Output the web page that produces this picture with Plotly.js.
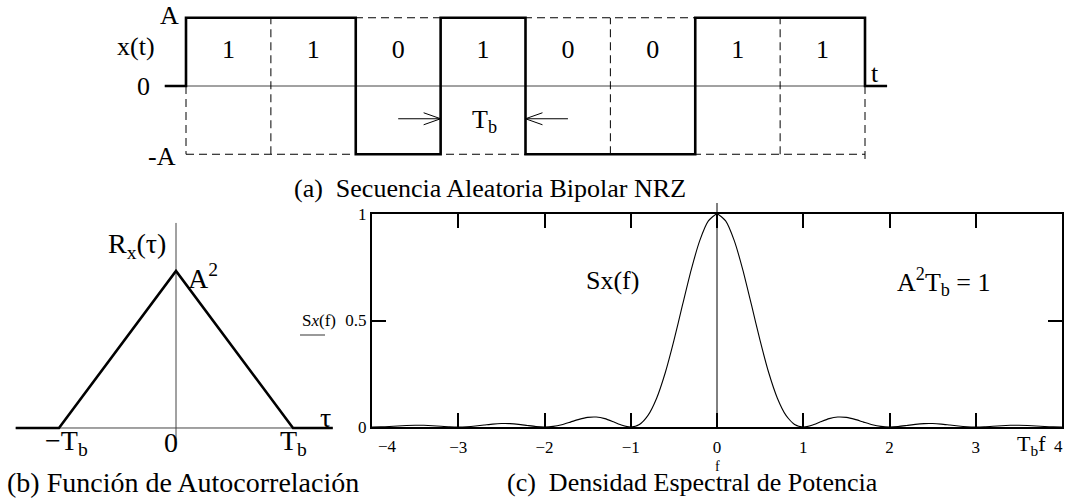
<!DOCTYPE html>
<html>
<head>
<meta charset="utf-8">
<script src="https://cdn.plot.ly/plotly-3.0.1.min.js"></script>
<style>html,body{margin:0;padding:0;background:#fff;}#chart{width:1065px;height:498px;}</style>
</head>
<body>
<div id="chart"></div>
<script>
// ---------- data ----------
const bits = [1, 1, 0, 1, 0, 0, 1, 1];
const bitLabels = ['1', '1', '0', '1', '0', '0', '1', '1'];
const levelLabels = ['A', '0', '-A'];

const tauValues = [-1.37, -1, 0, 1, 1.34];
const rValues = [0, 0, 1, 0, 0];

const fValues = [-4.0, -3.9, -3.8, -3.7, -3.6, -3.5, -3.4, -3.3, -3.2, -3.1,
  -3.0, -2.9, -2.8, -2.7, -2.6, -2.5, -2.4, -2.3, -2.2, -2.1,
  -2.0, -1.9, -1.8, -1.7, -1.6, -1.5, -1.4, -1.3, -1.2, -1.1,
  -1.0, -0.9, -0.8, -0.7, -0.6, -0.5, -0.4, -0.3, -0.2, -0.1,
  0.0, 0.1, 0.2, 0.3, 0.4, 0.5, 0.6, 0.7, 0.8, 0.9,
  1.0, 1.1, 1.2, 1.3, 1.4, 1.5, 1.6, 1.7, 1.8, 1.9,
  2.0, 2.1, 2.2, 2.3, 2.4, 2.5, 2.6, 2.7, 2.8, 2.9,
  3.0, 3.1, 3.2, 3.3, 3.4, 3.5, 3.6, 3.7, 3.8, 3.9, 4.0];
const sValues = [0.0, 0.0006, 0.0024, 0.0048, 0.0071, 0.0083, 0.0079, 0.0061, 0.0034, 0.0010,
  0.0, 0.0012, 0.0045, 0.0091, 0.0136, 0.0162, 0.0159, 0.0125, 0.0072, 0.0022,
  0.0, 0.0027, 0.0108, 0.0230, 0.0358, 0.0450, 0.0468, 0.0392, 0.0243, 0.0080,
  0.0, 0.0119, 0.0547, 0.1353, 0.2546, 0.4053, 0.5728, 0.7368, 0.8751, 0.9675,
  1.0, 0.9675, 0.8751, 0.7368, 0.5728, 0.4053, 0.2546, 0.1353, 0.0547, 0.0119,
  0.0, 0.0080, 0.0243, 0.0392, 0.0468, 0.0450, 0.0358, 0.0230, 0.0108, 0.0027,
  0.0, 0.0022, 0.0072, 0.0125, 0.0159, 0.0162, 0.0136, 0.0091, 0.0045, 0.0012,
  0.0, 0.0010, 0.0034, 0.0061, 0.0079, 0.0083, 0.0071, 0.0048, 0.0024, 0.0006, 0.0];

const fTickVals = [-3, -2, -1, 0, 1, 2, 3];
const fTickText = ['\u22123', '\u22122', '\u22121', '0', '1', '2', '3'];
const sTickVals = [0, 0.5, 1];
const sTickText = ['0', '0.5', '1'];

// ---------- helpers ----------
const W = 1065, H = 498;
const FONT = 'Liberation Serif';
const px = x => x / W;
const py = y => 1 - y / H;
function ann(x, y, text, size, extra) {
  return Object.assign({xref: 'paper', yref: 'paper', x: px(x), y: py(y), text: text,
    showarrow: false, xanchor: 'center', yanchor: 'middle',
    font: {family: FONT, size: size, color: '#000'}}, extra || {});
}

// ---------- (a) signal ----------
const nb = bits.length;
const sigX = [-0.25], sigY = [0];
for (let i = 0; i < nb; i++) { sigX.push(i); sigY.push(bits[i] ? 1 : -1); }
sigX.push(nb); sigY.push(0);
sigX.push(nb + 0.26); sigY.push(0);

const dashX = [], dashY = [];
for (let i = 1; i < nb; i++) {
  if (bits[i] === bits[i - 1]) { dashX.push(i, i, null); dashY.push(-1, 1, null); }
}
dashX.push(0, 0, null, nb, nb, null, 0, nb, null, 0, nb);
dashY.push(0, -1, null, 0, -1.13, null, 1, 1, null, -1, -1);

const centers = bits.map((b, i) => i + 0.5);

// arrows around the isolated bit (index 3)
const iso = 3, arrY = -0.48, arrLen = 0.5, bx = 0.2, by = 0.088;
const arrX = [iso - arrLen, iso, null, iso - bx, iso, iso - bx, null,
  iso + 1 + arrLen, iso + 1, null, iso + 1 + bx, iso + 1, iso + 1 + bx];
const arrYs = [arrY, arrY, null, arrY + by, arrY, arrY - by, null,
  arrY, arrY, null, arrY + by, arrY, arrY - by];

const traces = [
  {x: [-0.25, nb + 0.26], y: [0, 0], mode: 'lines', line: {color: '#444', width: 1}, xaxis: 'x', yaxis: 'y'},
  {x: dashX, y: dashY, mode: 'lines', line: {color: '#000', width: 1, dash: '8px,5px'}, xaxis: 'x', yaxis: 'y'},
  {x: sigX, y: sigY, mode: 'lines', line: {color: '#000', width: 2.6, shape: 'hv'}, xaxis: 'x', yaxis: 'y'},
  {x: arrX, y: arrYs, mode: 'lines', line: {color: '#000', width: 1}, xaxis: 'x', yaxis: 'y'},
  {x: centers, y: centers.map(() => 0.5), mode: 'text', text: bitLabels,
    textfont: {family: FONT, size: 26, color: '#000'}, textposition: 'middle center', xaxis: 'x', yaxis: 'y'},
  // (b) autocorrelation
  {x: [tauValues[0], tauValues[tauValues.length - 1]], y: [0, 0], mode: 'lines', line: {color: '#444', width: 1}, xaxis: 'x2', yaxis: 'y2'},
  {x: [0, 0], y: [-0.076, 1.306], mode: 'lines', line: {color: '#444', width: 1}, xaxis: 'x2', yaxis: 'y2'},
  {x: tauValues, y: rValues, mode: 'lines', line: {color: '#000', width: 2.6}, xaxis: 'x2', yaxis: 'y2'},
  // (c) power spectral density
  {x: fValues, y: sValues, mode: 'lines', line: {color: '#000', width: 1.1, shape: 'spline', smoothing: 0.6}, xaxis: 'x3', yaxis: 'y3'}
];

const hidden = {visible: false, showgrid: false, zeroline: false, fixedrange: true};

const layout = {
  width: W, height: H,
  margin: {l: 0, r: 0, t: 0, b: 0, pad: 0},
  paper_bgcolor: '#fff', plot_bgcolor: 'rgba(0,0,0,0)',
  showlegend: false,
  font: {family: FONT, color: '#000'},
  xaxis: Object.assign({domain: [0, 1], range: [-2.1915, 10.3564], anchor: 'y'}, hidden),
  yaxis: Object.assign({domain: [0, 1], range: [-6.0366, 1.2601], anchor: 'x'}, hidden),
  xaxis2: Object.assign({domain: [0, 1], range: [-1.5043, 7.5983], anchor: 'y2'}, hidden),
  yaxis2: Object.assign({domain: [0, 1], range: [-0.4459, 2.7261], anchor: 'x2'}, hidden),
  xaxis3: {domain: [372 / W, 1062 / W], range: [-4, 4], anchor: 'y3',
    tickvals: fTickVals, ticktext: fTickText, ticks: 'inside', ticklen: 14, tickwidth: 2, tickcolor: '#000',
    showline: true, linewidth: 2, linecolor: '#000', mirror: 'allticks', showgrid: false, zeroline: false,
    ticklabelstandoff: 4,
    tickfont: {family: FONT, size: 17, color: '#000'}, fixedrange: true},
  yaxis3: {domain: [71 / H, 284 / H], range: [0, 1], anchor: 'x3',
    tickvals: sTickVals, ticktext: sTickText, ticks: 'inside', ticklen: 14, tickwidth: 2, tickcolor: '#000',
    showline: true, linewidth: 2, linecolor: '#000', mirror: 'allticks', showgrid: false, zeroline: false,
    tickfont: {family: FONT, size: 17, color: '#000'}, fixedrange: true},
  shapes: [
    {type: 'line', xref: 'x3', yref: 'paper', x0: 0, x1: 0, y0: py(427), y1: py(203), line: {color: '#000', width: 1}},
    {type: 'line', xref: 'paper', yref: 'paper', x0: px(300), x1: px(325), y0: py(335), y1: py(335), line: {color: '#777', width: 1.5}}
  ],
  annotations: [
    // (a)
    ann(169, 15, levelLabels[0], 26),
    ann(136, 46, 'x(t)', 26),
    ann(144, 86, levelLabels[1], 26),
    ann(162, 157, levelLabels[2], 26),
    ann(875, 73, 't', 26),
    ann(484, 121, 'T<sub>b</sub>', 26),
    ann(490, 188, '(a)\u00a0\u00a0Secuencia Aleatoria Bipolar NRZ', 26),
    // (b)
    ann(137, 245, 'R<sub>x</sub>(\u03c4)', 28),
    ann(203, 276, 'A<sup>2</sup>', 28),
    ann(325, 417, '\u03c4', 28),
    ann(66, 442, '\u2212T<sub>b</sub>', 28),
    ann(171, 442, '0', 28),
    ann(293, 442, 'T<sub>b</sub>', 28),
    ann(183, 482, '(b) Funci\u00f3n de Autocorrelaci\u00f3n', 28),
    // (c)
    ann(612, 280, 'Sx(f)', 26),
    ann(944, 282, 'A<sup>2</sup>T<sub>b</sub> = 1', 26),
    ann(319, 320, 'S<i>x</i>(f)', 17),
    ann(387, 446, '\u22124', 17),
    ann(1058, 446, '4', 17),
    ann(1031, 445, 'T<sub>b</sub>f', 22),
    ann(717, 466, 'f', 14),
    ann(692, 482, '(c)\u00a0\u00a0Densidad Espectral de Potencia', 26)
  ]
};

Plotly.newPlot('chart', traces, layout, {staticPlot: true, displayModeBar: false});
</script>
</body>
</html>
